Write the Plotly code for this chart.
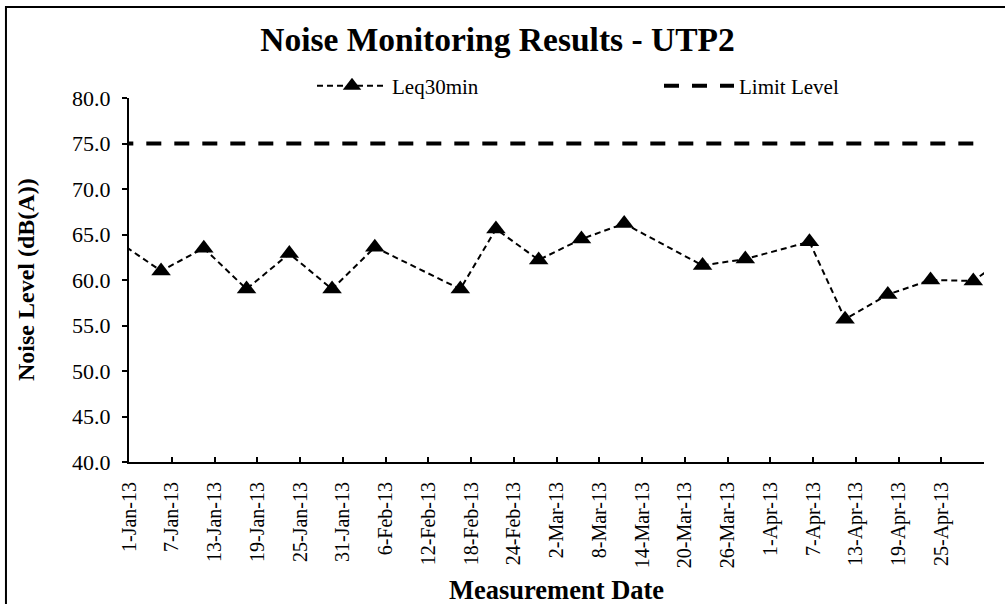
import pandas as pd
import plotly.graph_objects as go

# ---- data ----
dates = ["2012-12-30", "2013-01-05", "2013-01-11", "2013-01-17", "2013-01-23",
         "2013-01-29", "2013-02-04", "2013-02-16", "2013-02-21", "2013-02-27",
         "2013-03-05", "2013-03-11", "2013-03-22", "2013-03-28", "2013-04-06",
         "2013-04-11", "2013-04-17", "2013-04-23", "2013-04-29", "2013-05-05"]
leq30min = [64.2, 61.0, 63.5, 59.0, 62.9, 59.0, 63.6, 59.0, 65.6, 62.2,
            64.5, 66.2, 61.6, 62.3, 64.2, 55.7, 58.4, 60.0, 59.9, 63.3]
limit_level = [75.0] * len(dates)

title_text = "Noise Monitoring Results - UTP2"
x_title = "Measurement Date"
y_title = "Noise Level (dB(A))"

# Excel-style date axis: each day occupies a slot, point drawn mid-slot
x_vals = pd.to_datetime(dates) + pd.Timedelta(hours=12)

tick_dates = pd.date_range("2013-01-01", "2013-05-01", freq="6D")
tick_text = [f"{d.day}-{d.strftime('%b-%y')}" for d in tick_dates]
tick_text[-1] = ""  # last boundary tick carries no label

FONT = "Liberation Serif, Times New Roman, serif"
W, H = 1005, 604
ML, MR, MT, MB = 129, 21, 98, 142
PW, PH = W - ML - MR, H - MT - MB

fig = go.Figure()
fig.add_trace(go.Scatter(
    x=x_vals, y=leq30min, name="Leq30min", mode="lines+markers",
    line=dict(color="black", width=2, dash="6px,4px"),
    marker=dict(symbol="triangle-up", size=17, color="black"),
    legend="legend",
))
fig.add_trace(go.Scatter(
    x=x_vals, y=limit_level, name="Limit Level", mode="lines",
    line=dict(color="black", width=4, dash="15px,13px"),
    legend="legend2",
))

leg_common = dict(orientation="h", xref="container", yref="container",
                  xanchor="left", yanchor="middle", y=1 - 86 / H,
                  itemwidth=70, font=dict(size=21, family=FONT),
                  bgcolor="rgba(0,0,0,0)")

fig.update_layout(
    width=W, height=H,
    margin=dict(l=ML, r=MR, t=MT, b=MB, autoexpand=False),
    paper_bgcolor="white", plot_bgcolor="white",
    font=dict(family=FONT, size=21, color="black"),
    title=dict(text=f"<b>{title_text}</b>", x=0.495, xanchor="center",
               y=1 - 39 / H, yanchor="middle", yref="container",
               font=dict(size=33.5, family=FONT, color="black")),
    showlegend=True,
    legend=dict(x=312 / W, **leg_common),
    legend2=dict(x=659 / W, **leg_common),
    xaxis=dict(
        type="date", range=["2013-01-01", "2013-05-01"],
        tickmode="array", tickvals=tick_dates, ticktext=tick_text,
        tickangle=-90, ticks="inside", ticklen=5, tickwidth=2, tickcolor="black",
        showline=True, linecolor="black", linewidth=2, showgrid=False, zeroline=False,
        ticklabelstandoff=10, automargin=False,
        tickfont=dict(size=20, family=FONT),
    ),
    yaxis=dict(
        range=[40, 80], dtick=5, tick0=40, tickformat=".1f",
        ticks="outside", ticklen=5, tickwidth=2, tickcolor="black",
        showline=True, linecolor="black", linewidth=2, showgrid=False, zeroline=False,
        ticklabelstandoff=7, automargin=False,
        tickfont=dict(size=22, family=FONT),
    ),
    annotations=[
        dict(text=f"<b>{x_title}</b>", xref="paper", yref="paper",
             x=0.5, y=-(590 - (MT + PH)) / PH, xanchor="center", yanchor="middle",
             showarrow=False, font=dict(size=26.5, family=FONT)),
        dict(text=f"<b>{y_title}</b>", xref="paper", yref="paper",
             x=(26 - ML) / PW, y=0.5, xanchor="center", yanchor="middle",
             textangle=-90, showarrow=False, font=dict(size=24, family=FONT)),
    ],
    shapes=[dict(type="rect", xref="paper", yref="paper",
                 x0=-0.1439, x1=1.3, y0=-0.8, y1=1.2502,
                 line=dict(color="black", width=2), fillcolor="rgba(0,0,0,0)",
                 layer="below")],
)

fig.write_html("out.html", config={"displayModeBar": False},
               post_script="document.body.style.margin='0';")
